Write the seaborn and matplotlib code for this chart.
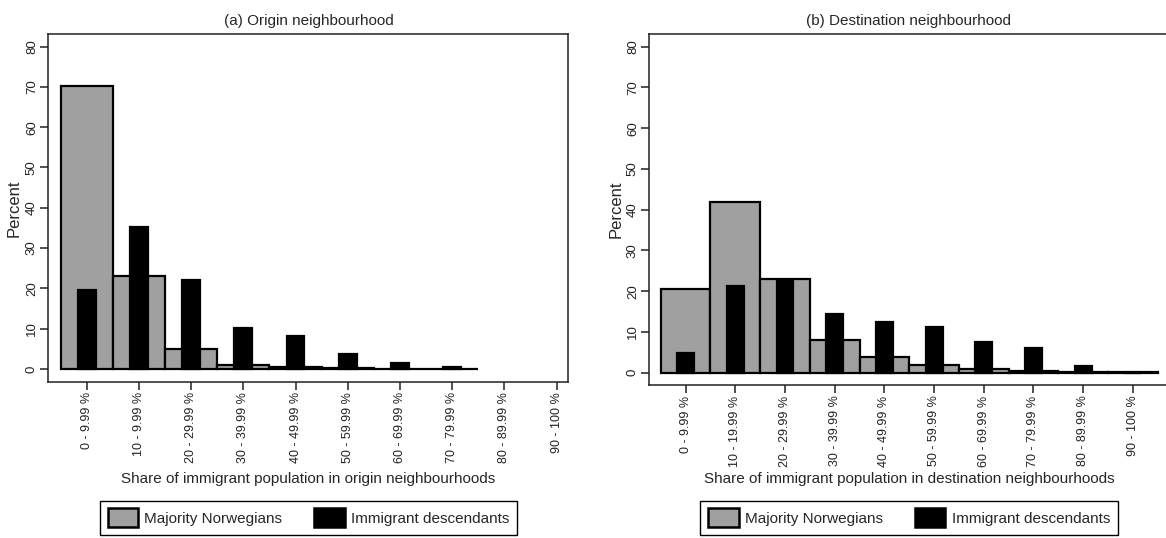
import matplotlib
matplotlib.use("Agg")
import matplotlib.pyplot as plt
import seaborn as sns
import pandas as pd
from matplotlib.patches import Patch

# bin labels (the origin panel keeps the "10 - 9.99 %" label as printed)
bins_origin = ["0 - 9.99 %", "10 - 9.99 %", "20 - 29.99 %", "30 - 39.99 %", "40 - 49.99 %",
               "50 - 59.99 %", "60 - 69.99 %", "70 - 79.99 %", "80 - 89.99 %", "90 - 100 %"]
bins_dest = ["0 - 9.99 %", "10 - 19.99 %", "20 - 29.99 %", "30 - 39.99 %", "40 - 49.99 %",
             "50 - 59.99 %", "60 - 69.99 %", "70 - 79.99 %", "80 - 89.99 %", "90 - 100 %"]

# percent values
origin_majority = [70.2, 23.1, 5.0, 1.1, 0.5, 0.2, 0.1, 0.1]
origin_descendants = [19.5, 35.2, 22.2, 10.1, 8.3, 3.8, 1.4, 0.6]
dest_majority = [20.5, 41.9, 22.9, 8.0, 3.9, 2.0, 0.9, 0.4, 0.1, 0.1]
dest_descendants = [4.9, 21.3, 22.8, 14.4, 12.4, 11.3, 7.5, 6.0, 1.6, 0.0]

grey = "#a0a0a0"

sns.set_style("ticks")
plt.rcParams["font.family"] = ["Liberation Sans", "DejaVu Sans"]
plt.rcParams["axes.linewidth"] = 1.1
plt.rcParams["axes.edgecolor"] = "#222222"

W, H = 1166, 538
fig = plt.figure(figsize=(W / 100, H / 100), dpi=100)

panels = [
    # title, xlabel, bins, majority, descendants, axes box (px), xlim, ylim, centre x, ylabel x
    ("(a) Origin neighbourhood", "Share of immigrant population in origin neighbourhoods",
     bins_origin, origin_majority, origin_descendants,
     (48.3, 34.3, 568.3, 381.7), (-0.736, 9.226), (-3.15, 83.05), 308.5, 14),
    ("(b) Destination neighbourhood", "Share of immigrant population in destination neighbourhoods",
     bins_dest, dest_majority, dest_descendants,
     (649.3, 34.3, 1200.0, 385.0), (-0.73, 10.35), (-3.02, 83.04), 909.0, 616),
]

for title, xlabel, bins, maj, desc, box, xlim, ylim, cx, ylx in panels:
    x0, y0, x1, y1 = box
    ax = fig.add_axes([x0 / W, 1 - y1 / H, (x1 - x0) / W, (y1 - y0) / H])

    df_maj = pd.DataFrame({"bin": bins[:len(maj)], "pct": maj})
    df_desc = pd.DataFrame({"bin": bins[:len(desc)], "pct": desc})

    sns.barplot(data=df_maj, x="bin", y="pct", order=bins, color=grey, saturation=1,
                width=1.0, edgecolor="black", linewidth=1.6, errorbar=None, ax=ax)
    sns.barplot(data=df_desc, x="bin", y="pct", order=bins, color="black", saturation=1,
                width=0.34, edgecolor="black", linewidth=1.6, errorbar=None, ax=ax)

    ax.set_xlim(*xlim)
    ax.set_ylim(*ylim)
    ax.set_yticks(range(0, 81, 10))
    ax.tick_params(axis="both", direction="out", length=5.5, width=1.1,
                   colors="#222222", pad=2)
    ax.tick_params(axis="x", labelsize=9)
    ax.tick_params(axis="y", labelsize=9.5)
    plt.setp(ax.get_xticklabels(), rotation=90, va="top", ha="center")
    plt.setp(ax.get_yticklabels(), rotation=90, va="center", ha="right")
    for s in ax.spines.values():
        s.set_visible(True)

    w_px = x1 - x0
    h_px = y1 - y0
    ax.set_ylabel("Percent", fontsize=12, va="center")
    ax.yaxis.set_label_coords((ylx - x0) / w_px, 0.5)
    ax.set_xlabel(xlabel, fontsize=11, va="center")
    ax.xaxis.set_label_coords((cx - x0) / w_px, (y1 - 479) / h_px)
    ax.set_title(title, fontsize=11, x=(cx - x0) / w_px, pad=7)

    handles = [Patch(facecolor=grey, edgecolor="black", linewidth=1.8, label="Majority Norwegians"),
               Patch(facecolor="black", edgecolor="black", linewidth=1.8, label="Immigrant descendants")]
    fig.legend(handles=handles, ncol=2, loc="upper center",
               bbox_to_anchor=(cx / W, 1 - 500.7 / H), borderaxespad=0, fontsize=11,
               frameon=True, fancybox=False, edgecolor="black", framealpha=1,
               handlelength=2.0, handleheight=1.5, handletextpad=0.4,
               columnspacing=2.1, borderpad=0.5)

fig.savefig("out.png", dpi=100)
